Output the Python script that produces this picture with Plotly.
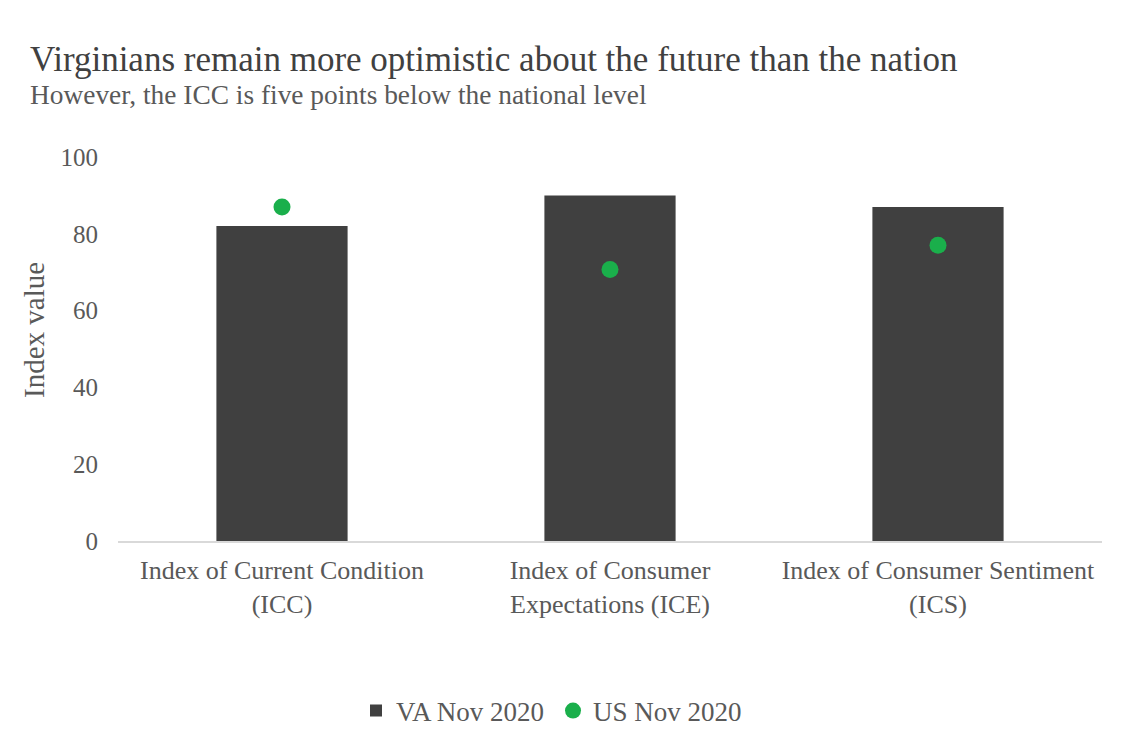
import plotly.graph_objects as go

categories = ["Index of Current Condition<br>(ICC)", "Index of Consumer<br>Expectations (ICE)", "Index of Consumer Sentiment<br>(ICS)"]
va_values = [82, 90, 87]
us_values = [87, 70.7, 77]
tick_vals = [0, 20, 40, 60, 80, 100]

W, H = 1134, 742
L, R, T, B = 110, 40, 149, 209
pw = W - L - R
ph = H - T - B
OFF = 8


def py(screen_y):
    return (H - B - (screen_y - OFF)) / ph


def px(screen_x):
    return (screen_x - OFF - L) / pw


fig = go.Figure()
fig.add_trace(go.Bar(x=categories, y=va_values, name="VA Nov 2020",
                     marker=dict(color="#404040", line=dict(width=0)), width=0.4))
fig.add_trace(go.Scatter(x=categories, y=us_values, name="US Nov 2020", mode="markers",
                         marker=dict(color="#1AAF4B", size=17, line=dict(width=0))))

font_fam = "Liberation Serif, Times New Roman, serif"
fig.update_layout(
    width=W, height=H,
    margin=dict(l=L, r=R, t=T, b=B),
    paper_bgcolor="white", plot_bgcolor="white",
    font=dict(family=font_fam, color="#595959", size=22),
    showlegend=True,
    legend=dict(orientation="h", xref="container", yref="container",
                x=348 / W, xanchor="left", y=1 - (711 - OFF) / H, yanchor="middle",
                font=dict(size=27, color="#595959"), itemwidth=30, traceorder="normal",
                entrywidth=152, entrywidthmode="pixels"),
    xaxis=dict(showgrid=False, showline=True, linecolor="#D9D9D9", linewidth=2,
               ticks="", tickfont=dict(size=26, color="#595959"), ticklabelstandoff=5,
               fixedrange=True),
    yaxis=dict(range=[0, 100], tickvals=tick_vals, showgrid=False, zeroline=False,
               showline=False, ticks="", ticklen=0, ticklabelstandoff=19,
               tickfont=dict(size=25, color="#595959")),
    annotations=[
        dict(text="Virginians remain more optimistic about the future than the nation",
             xref="paper", yref="paper", x=px(28), y=py(60),
             xanchor="left", yanchor="middle", showarrow=False,
             font=dict(size=35, color="#404040", family=font_fam)),
        dict(text="However, the ICC is five points below the national level",
             xref="paper", yref="paper", x=px(28), y=py(95),
             xanchor="left", yanchor="middle", showarrow=False,
             font=dict(size=27.4, color="#595959", family=font_fam)),
        dict(text="Index value", textangle=-90,
             xref="paper", yref="paper", x=px(34), y=py(330),
             xanchor="center", yanchor="middle", showarrow=False,
             font=dict(size=29, color="#595959", family=font_fam)),
    ],
)
fig.write_html("out.html")
